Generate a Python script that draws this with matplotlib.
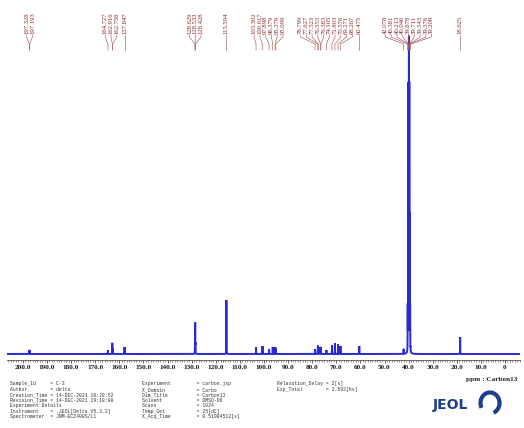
import numpy as np
import matplotlib
matplotlib.use("Agg")
import matplotlib.pyplot as plt
from matplotlib.patches import Arc
from matplotlib.ticker import MultipleLocator, FuncFormatter

# peak positions (ppm) and heights (px above baseline)
peak_ppm = [197.328, 197.193,
            164.727, 162.916, 162.758, 157.847,
            128.629, 128.533, 128.428,
            115.594,
            103.302, 100.617, 97.898, 96.379, 95.379, 95.099,
            78.799, 77.627, 77.523, 76.553, 76.383, 74.105,
            71.803, 70.576, 69.271, 68.267, 60.475,
            42.078, 40.381, 40.213, 40.046, 39.878, 39.711, 39.543, 39.376, 39.208,
            18.625]
peak_height = [4, 3,
               4, 11, 5, 7,
               10, 30, 9,
               54,
               7, 8, 5, 7, 7, 6,
               5, 8, 6, 7, 5, 4,
               9, 11, 10, 8, 8,
               5, 43, 129, 257, 300, 257, 129, 43, 3,
               17]

left_params = [("Sample_Id", "C-3"), ("Author", "delta"),
               ("Creation_Time", "14-DEC-2021 16:28:52"),
               ("Revision_Time", "14-DEC-2021 19:18:00"),
               ("Experiment Details", None),
               ("Instrument", ".JEOL[Delta V5.3.2]"),
               ("Spectrometer", "JNM-ECZ400S/L1")]
mid_params = [("Experiment", "carbon.jxp"), ("X_Domain", "Carbo"),
              ("Dim_Title", "Carbon13"), ("Solvent", "DMSO-D6"),
              ("Scans", "1024"), ("Temp_Get", "25[dC]"),
              ("X_Acq_Time", "0.51904512[s]")]
right_params = [("Relaxation_Delay", "2[s]"), ("Exp_Total", "2.593[hs]")]

W, H = 524, 428
fig = plt.figure(figsize=(W / 100, H / 100), dpi=100)

# spectrum axes: x from pixel 7 to 520, bottom axis line at pixel row 360
ax = fig.add_axes([7 / W, (H - 360) / H, (520 - 7) / W, 360 / H])
ppm = np.linspace(206.6, -6.2, 40000)
hw = 0.03
spec = np.zeros_like(ppm)
for p, h in zip(peak_ppm, peak_height):
    spec += h * hw**2 / ((ppm - p)**2 + hw**2)
ax.plot(ppm, spec, color="#2a2ad2", lw=1.4, solid_joinstyle="miter")
ax.set_xlim(206.6, -6.2)
ax.set_ylim(-6, 354)

for s in ["top", "left", "right"]:
    ax.spines[s].set_visible(False)
ax.spines["bottom"].set_color("#555555")
ax.spines["bottom"].set_linewidth(0.6)
ax.set_yticks([])
ax.xaxis.set_major_locator(MultipleLocator(10))
ax.xaxis.set_minor_locator(MultipleLocator(1))
ax.xaxis.set_major_formatter(FuncFormatter(lambda v, _: "0" if abs(v) < 1e-6 else f"{v:.1f}"))
ax.tick_params(axis="x", which="major", length=2.5, width=0.6, color="#444444",
               pad=1.2, labelsize=5.2, labelcolor="#1a1a1a")
ax.tick_params(axis="x", which="minor", length=1.4, width=0.5, color="#666666")
for t in ax.get_xticklabels():
    t.set_fontfamily("Liberation Serif")
    t.set_fontweight("bold")

# spread labels so they do not overlap (spacing ~5.75 px)
d = 5.75 / 2.41
pos = [-p for p in peak_ppm]
clusters = [[i] for i in range(len(pos))]
changed = True
while changed:
    changed = False
    centers = [np.mean([pos[i] for i in c]) for c in clusters]
    for k in range(len(clusters) - 1):
        a, b = clusters[k], clusters[k + 1]
        end_a = centers[k] + (len(a) - 1) * d / 2
        start_b = centers[k + 1] - (len(b) - 1) * d / 2
        if start_b - end_a < d:
            clusters[k] = a + b
            del clusters[k + 1]
            changed = True
            break
label_x = [0.0] * len(pos)
for c in clusters:
    cen = np.mean([pos[i] for i in c])
    for j, i in enumerate(c):
        label_x[i] = -(cen + (j - (len(c) - 1) / 2) * d)

lab_col = "#862424"
for p, lx in zip(peak_ppm, label_x):
    ax.text(lx, 320, f"{p:.3f}", rotation=90, ha="center", va="bottom",
            fontsize=4.8, family="Liberation Serif", color=lab_col)
    ax.plot([lx, lx, p, p], [319, 317, 310, 304], color="#a55a5a", lw=0.45)

# overlay in pixel coordinates for footer text and logo
ov = fig.add_axes([0, 0, 1, 1])
ov.set_xlim(0, W)
ov.set_ylim(H, 0)
ov.axis("off")

ov.text(517, 380, "ppm : Carbon13", ha="right", va="center", fontsize=5.2,
        family="Liberation Serif", fontweight="bold", color="#222222")

def block(x, y0, rows, pad, dy=5.4):
    for k, (name, val) in enumerate(rows):
        s = name if val is None else f"{name:<{pad}}= {val}"
        ov.text(x, y0 + k * dy, s, ha="left", va="center", fontsize=3.4,
                family="Liberation Mono", color="#333333")

block(10, 384, left_params, 14)
block(142, 384, mid_params, 19)
block(277, 384, right_params, 17)

navy = "#1d3d8f"
ov.text(433, 405, "JEOL", ha="left", va="center", fontsize=10, fontweight="bold",
        family="DejaVu Sans", color=navy)
ov.add_patch(Arc((490, 403), 19, 21, theta1=150, theta2=430, lw=3, color=navy))

fig.savefig("out.png", dpi=100)
